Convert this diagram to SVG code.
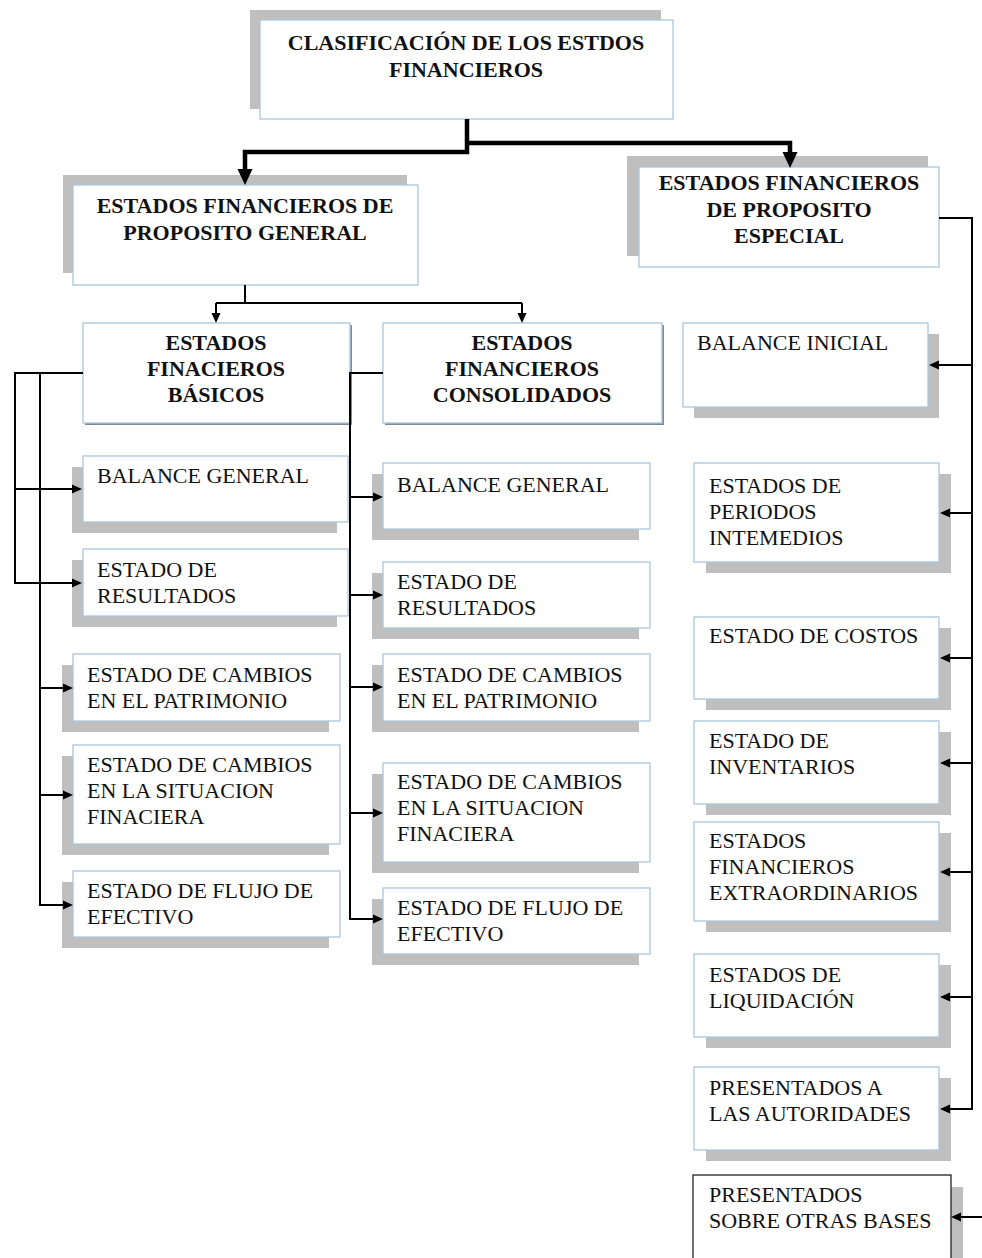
<svg xmlns="http://www.w3.org/2000/svg" width="982" height="1258" viewBox="0 0 982 1258">
<style>
.bg{fill:#ffffff}
.sh{fill:#bfbfbf}
.box{fill:#ffffff;stroke:#a9c6de;stroke-width:1.3}
.box2{fill:#ffffff;stroke:#222222;stroke-width:1.3}
.edge{fill:#7d8a98}
text{font-family:"Liberation Serif","Times New Roman",serif;font-size:22px;fill:#111111}
.b{font-weight:bold;text-anchor:middle}
.thick{fill:none;stroke:#000;stroke-width:4.5}
.thin{fill:none;stroke:#000;stroke-width:2}
.ah{fill:#000;stroke:none}
</style>
<rect class="bg" x="0" y="0" width="982" height="1258"/>

<g id="title">
<rect class="sh" x="250" y="10" width="411" height="99"/>
<rect class="box" x="260" y="20" width="413" height="99"/>
<text class="b" x="466" y="50">CLASIFICACIÓN DE LOS ESTDOS</text>
<text class="b" x="466" y="77">FINANCIEROS</text>
</g>

<g id="proposito-general">
<rect class="sh" x="63" y="175" width="344" height="98"/>
<rect class="box" x="73" y="185" width="345" height="100"/>
<text class="b" x="245" y="213">ESTADOS FINANCIEROS DE</text>
<text class="b" x="245" y="240">PROPOSITO GENERAL</text>
</g>

<g id="proposito-especial">
<rect class="sh" x="627" y="156" width="301" height="100"/>
<rect class="box" x="639" y="167" width="300" height="100"/>
<text class="b" x="789" y="190">ESTADOS FINANCIEROS</text>
<text class="b" x="789" y="217">DE PROPOSITO</text>
<text class="b" x="789" y="243">ESPECIAL</text>
</g>

<g id="basicos">
<rect class="edge" x="85" y="325" width="267" height="100"/>
<rect class="box" x="83" y="323" width="267" height="100"/>
<text class="b" x="216" y="350">ESTADOS</text>
<text class="b" x="216" y="376">FINACIEROS</text>
<text class="b" x="216" y="402">BÁSICOS</text>
</g>

<g id="consolidados">
<rect class="edge" x="385" y="325" width="279" height="100"/>
<rect class="box" x="383" y="323" width="279" height="100"/>
<text class="b" x="522" y="350">ESTADOS</text>
<text class="b" x="522" y="376">FINANCIEROS</text>
<text class="b" x="522" y="402">CONSOLIDADOS</text>
</g>

<g id="b-balance-general">
<rect class="sh" x="72" y="467" width="265" height="66"/>
<rect class="box" x="83" y="456" width="265" height="66"/>
<text x="97" y="483">BALANCE GENERAL</text>
</g>
<g id="b-estado-resultados">
<rect class="sh" x="72" y="560" width="265" height="67"/>
<rect class="box" x="83" y="549" width="265" height="67"/>
<text x="97" y="577">ESTADO DE</text>
<text x="97" y="603">RESULTADOS</text>
</g>
<g id="b-cambios-patrimonio">
<rect class="sh" x="62" y="665" width="267" height="67"/>
<rect class="box" x="73" y="654" width="267" height="67"/>
<text x="87" y="682">ESTADO DE CAMBIOS</text>
<text x="87" y="708">EN EL PATRIMONIO</text>
</g>
<g id="b-cambios-situacion">
<rect class="sh" x="62" y="756" width="267" height="99"/>
<rect class="box" x="73" y="745" width="267" height="99"/>
<text x="87" y="772">ESTADO DE CAMBIOS</text>
<text x="87" y="798">EN LA SITUACION</text>
<text x="87" y="824">FINACIERA</text>
</g>
<g id="b-flujo-efectivo">
<rect class="sh" x="62" y="882" width="267" height="66"/>
<rect class="box" x="73" y="871" width="267" height="66"/>
<text x="87" y="898">ESTADO DE FLUJO DE</text>
<text x="87" y="924">EFECTIVO</text>
</g>

<g id="c-balance-general">
<rect class="sh" x="372" y="474" width="267" height="66"/>
<rect class="box" x="383" y="463" width="267" height="66"/>
<text x="397" y="492">BALANCE GENERAL</text>
</g>
<g id="c-estado-resultados">
<rect class="sh" x="372" y="573" width="267" height="66"/>
<rect class="box" x="383" y="562" width="267" height="66"/>
<text x="397" y="589">ESTADO DE</text>
<text x="397" y="615">RESULTADOS</text>
</g>
<g id="c-cambios-patrimonio">
<rect class="sh" x="372" y="665" width="267" height="67"/>
<rect class="box" x="383" y="654" width="267" height="67"/>
<text x="397" y="682">ESTADO DE CAMBIOS</text>
<text x="397" y="708">EN EL PATRIMONIO</text>
</g>
<g id="c-cambios-situacion">
<rect class="sh" x="372" y="774" width="267" height="99"/>
<rect class="box" x="383" y="763" width="267" height="99"/>
<text x="397" y="789">ESTADO DE CAMBIOS</text>
<text x="397" y="815">EN LA SITUACION</text>
<text x="397" y="841">FINACIERA</text>
</g>
<g id="c-flujo-efectivo">
<rect class="sh" x="372" y="899" width="267" height="66"/>
<rect class="box" x="383" y="888" width="267" height="66"/>
<text x="397" y="915">ESTADO DE FLUJO DE</text>
<text x="397" y="941">EFECTIVO</text>
</g>

<g id="e-balance-inicial">
<rect class="sh" x="694" y="334" width="245" height="84"/>
<rect class="box" x="683" y="323" width="245" height="84"/>
<text x="697" y="350">BALANCE INICIAL</text>
</g>
<g id="e-periodos-intermedios">
<rect class="sh" x="706" y="474" width="245" height="99"/>
<rect class="box" x="694" y="463" width="245" height="99"/>
<text x="709" y="493">ESTADOS DE</text>
<text x="709" y="519">PERIODOS</text>
<text x="709" y="545">INTEMEDIOS</text>
</g>
<g id="e-costos">
<rect class="sh" x="706" y="628" width="245" height="82"/>
<rect class="box" x="694" y="617" width="245" height="82"/>
<text x="709" y="643">ESTADO DE COSTOS</text>
</g>
<g id="e-inventarios">
<rect class="sh" x="706" y="732" width="245" height="83"/>
<rect class="box" x="694" y="721" width="245" height="83"/>
<text x="709" y="748">ESTADO DE</text>
<text x="709" y="774">INVENTARIOS</text>
</g>
<g id="e-extraordinarios">
<rect class="sh" x="706" y="833" width="245" height="99"/>
<rect class="box" x="694" y="822" width="245" height="99"/>
<text x="709" y="848">ESTADOS</text>
<text x="709" y="874">FINANCIEROS</text>
<text x="709" y="900">EXTRAORDINARIOS</text>
</g>
<g id="e-liquidacion">
<rect class="sh" x="706" y="965" width="245" height="83"/>
<rect class="box" x="694" y="954" width="245" height="83"/>
<text x="709" y="982">ESTADOS DE</text>
<text x="709" y="1008">LIQUIDACIÓN</text>
</g>
<g id="e-autoridades">
<rect class="sh" x="706" y="1078" width="245" height="83"/>
<rect class="box" x="694" y="1067" width="245" height="83"/>
<text x="709" y="1095">PRESENTADOS A</text>
<text x="709" y="1121">LAS AUTORIDADES</text>
</g>
<g id="e-otras-bases">
<rect class="sh" x="705" y="1187" width="258" height="90"/>
<rect class="box2" x="693" y="1175" width="258" height="90"/>
<text x="709" y="1202">PRESENTADOS</text>
<text x="709" y="1228">SOBRE OTRAS BASES</text>
</g>

<g id="connectors">
<path class="thick" d="M467,119 V152 H245 V172"/>
<path class="thick" d="M467,143 H790 V155"/>
<polygon class="ah" points="237.5,169 252.5,169 245,185"/>
<polygon class="ah" points="782.5,152 797.5,152 790,168"/>
<path class="thin" d="M245,285 V303"/>
<path class="thin" d="M216,303 H522"/>
<path class="thin" d="M216,303 V314"/>
<path class="thin" d="M522,303 V314"/>
<polygon class="ah" points="211.5,313 220.5,313 216,323"/>
<polygon class="ah" points="517.5,313 526.5,313 522,323"/>

<path class="thin" d="M83,373 H15 V583 H73"/>
<path class="thin" d="M15,489 H73"/>
<path class="thin" d="M40,373 V905 H64"/>
<path class="thin" d="M40,688 H64"/>
<path class="thin" d="M40,795 H64"/>
<polygon class="ah" points="72,484.5 72,493.5 82,489"/>
<polygon class="ah" points="72,578.5 72,587.5 82,583"/>
<polygon class="ah" points="63,683.5 63,692.5 73,688"/>
<polygon class="ah" points="63,790.5 63,799.5 73,795"/>
<polygon class="ah" points="63,900.5 63,909.5 73,905"/>

<path class="thin" d="M383,373 H350 V919 H374"/>
<path class="thin" d="M350,497 H374"/>
<path class="thin" d="M350,595 H374"/>
<path class="thin" d="M350,687 H374"/>
<path class="thin" d="M350,813 H374"/>
<polygon class="ah" points="373,492.5 373,501.5 383,497"/>
<polygon class="ah" points="373,590.5 373,599.5 383,595"/>
<polygon class="ah" points="373,682.5 373,691.5 383,687"/>
<polygon class="ah" points="373,808.5 373,817.5 383,813"/>
<polygon class="ah" points="373,914.5 373,923.5 383,919"/>

<path class="thin" d="M939,218 H972 V1109 H949"/>
<path class="thin" d="M972,365 H938"/>
<path class="thin" d="M972,513 H949"/>
<path class="thin" d="M972,658 H949"/>
<path class="thin" d="M972,763 H949"/>
<path class="thin" d="M972,872 H949"/>
<path class="thin" d="M972,997 H949"/>
<path class="thin" d="M982,1217 H960"/>
<polygon class="ah" points="939,360.5 939,369.5 929,365"/>
<polygon class="ah" points="950,508.5 950,517.5 940,513"/>
<polygon class="ah" points="950,653.5 950,662.5 940,658"/>
<polygon class="ah" points="950,758.5 950,767.5 940,763"/>
<polygon class="ah" points="950,867.5 950,876.5 940,872"/>
<polygon class="ah" points="950,992.5 950,1001.5 940,997"/>
<polygon class="ah" points="950,1104.5 950,1113.5 940,1109"/>
<polygon class="ah" points="961,1212.5 961,1221.5 951,1217"/>
</g>
</svg>
